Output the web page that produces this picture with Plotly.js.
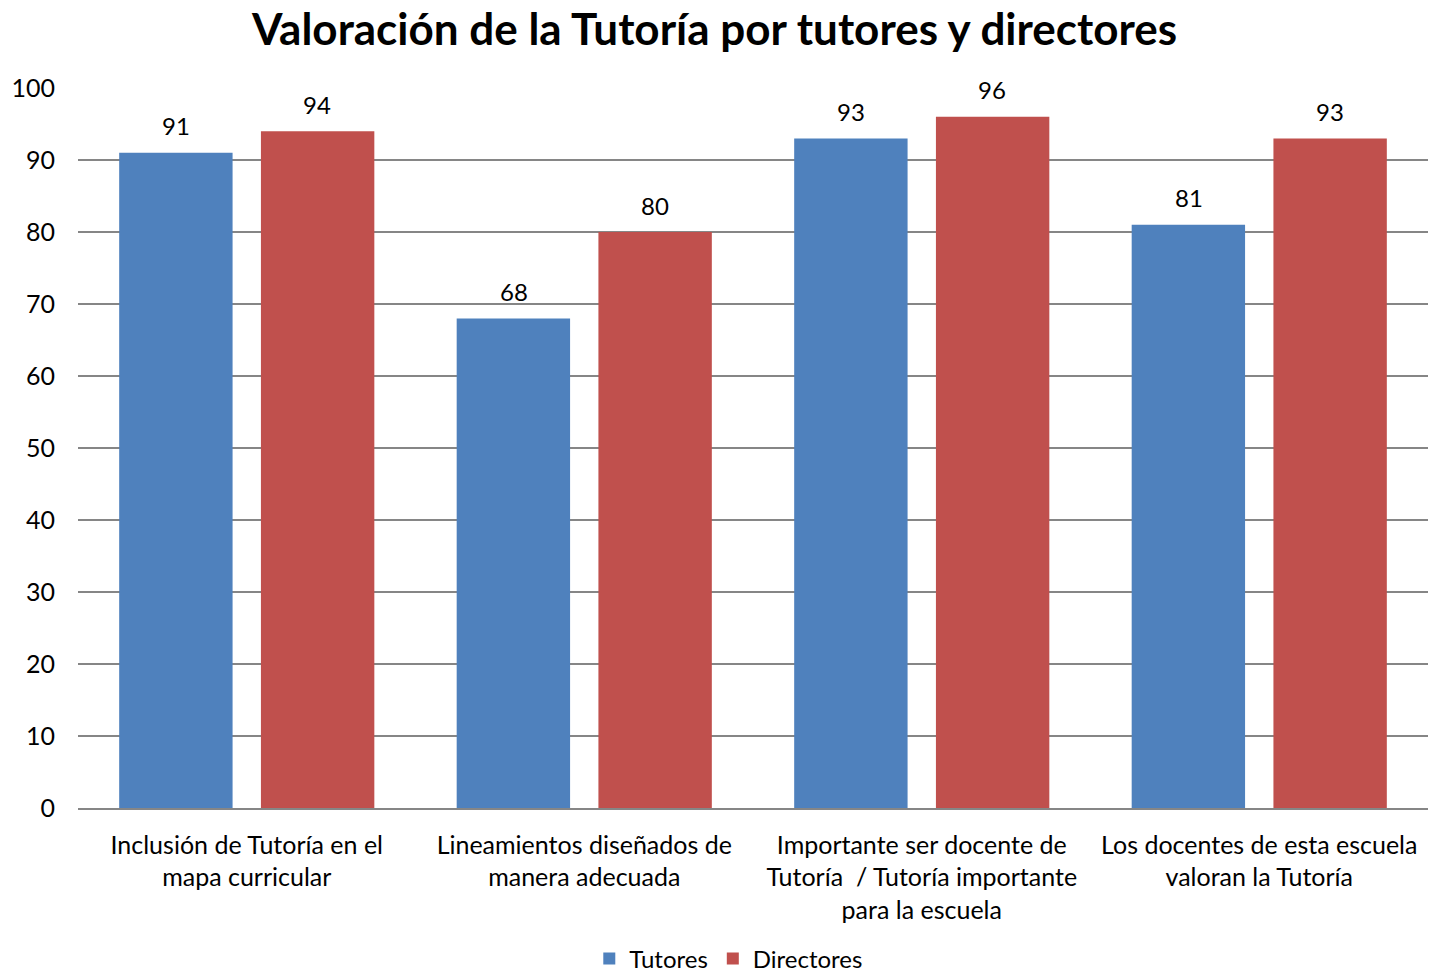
<!DOCTYPE html>
<html><head><meta charset="utf-8">
<script src="https://cdn.plot.ly/plotly-3.0.1.min.js"></script>
<style>html,body{margin:0;padding:0;background:#fff}#c{width:1429px;height:976px}</style>
</head><body><div id="c"></div>
<script>
const categories = [
  "Inclusión de Tutoría en el<br>mapa curricular",
  "Lineamientos diseñados de<br>manera adecuada",
  "Importante ser docente de<br>Tutoría  / Tutoría importante<br>para la escuela",
  "Los docentes de esta escuela<br>valoran la Tutoría"
];
const tutores = [91, 68, 93, 81];
const directores = [94, 80, 96, 93];
const yTicks = [0,10,20,30,40,50,60,70,80,90,100];
const FONT = "Lato, Calibri, Carlito, sans-serif";

const traces = [
  {type:'bar', name:'Tutores', x:categories, y:tutores, marker:{color:'#4F81BD'}},
  {type:'bar', name:'Directores', x:categories, y:directores, marker:{color:'#C0504D'}}
];
const annotations = [];
categories.forEach((c,i)=>{
  annotations.push({x:c, y:tutores[i], xref:'x', yref:'y', text:String(tutores[i]), showarrow:false,
    xshift:-70.5, yshift:27, font:{size:24,family:FONT,color:'#000'}});
  annotations.push({x:c, y:directores[i], xref:'x', yref:'y', text:String(directores[i]), showarrow:false,
    xshift:70.5, yshift:27, font:{size:24,family:FONT,color:'#000'}});
});
const layout = {
  width:1429, height:976,
  margin:{l:78, r:1, t:88, b:168},
  paper_bgcolor:'#fff', plot_bgcolor:'#fff',
  font:{family:FONT, color:'#000', size:25},
  title:{text:'<b>Valoración de la Tutoría por tutores y directores</b>', x:0.5, xanchor:'center',
         y:1-30/976, yanchor:'middle', yref:'container', font:{size:44, family:FONT, color:'#000'}},
  barmode:'group', bargap:0.16, bargroupgap:0.2,
  xaxis:{tickfont:{size:25,family:FONT}, showline:true, linecolor:'#868686', linewidth:1.5,
         ticks:'', showgrid:false, automargin:false, ticklabelstandoff:14},
  yaxis:{range:[0,100], tickvals:yTicks, ticktext:yTicks.map(String), showgrid:true,
         gridcolor:'#868686', gridwidth:1.5, zeroline:false, showline:false,
         tickfont:{size:25,family:FONT}, ticks:'', ticklen:0, automargin:false, ticklabelstandoff:22},
  annotations:annotations,
  showlegend:true,
  legend:{orientation:'h', x:0.51, xanchor:'center', xref:'container', yref:'container', y:17/976, yanchor:'middle',
          font:{size:24,family:FONT}, itemwidth:30, traceorder:'normal', tracegroupgap:0}
};
Plotly.newPlot('c', traces, layout, {displayModeBar:false, staticPlot:true});
</script></body></html>
